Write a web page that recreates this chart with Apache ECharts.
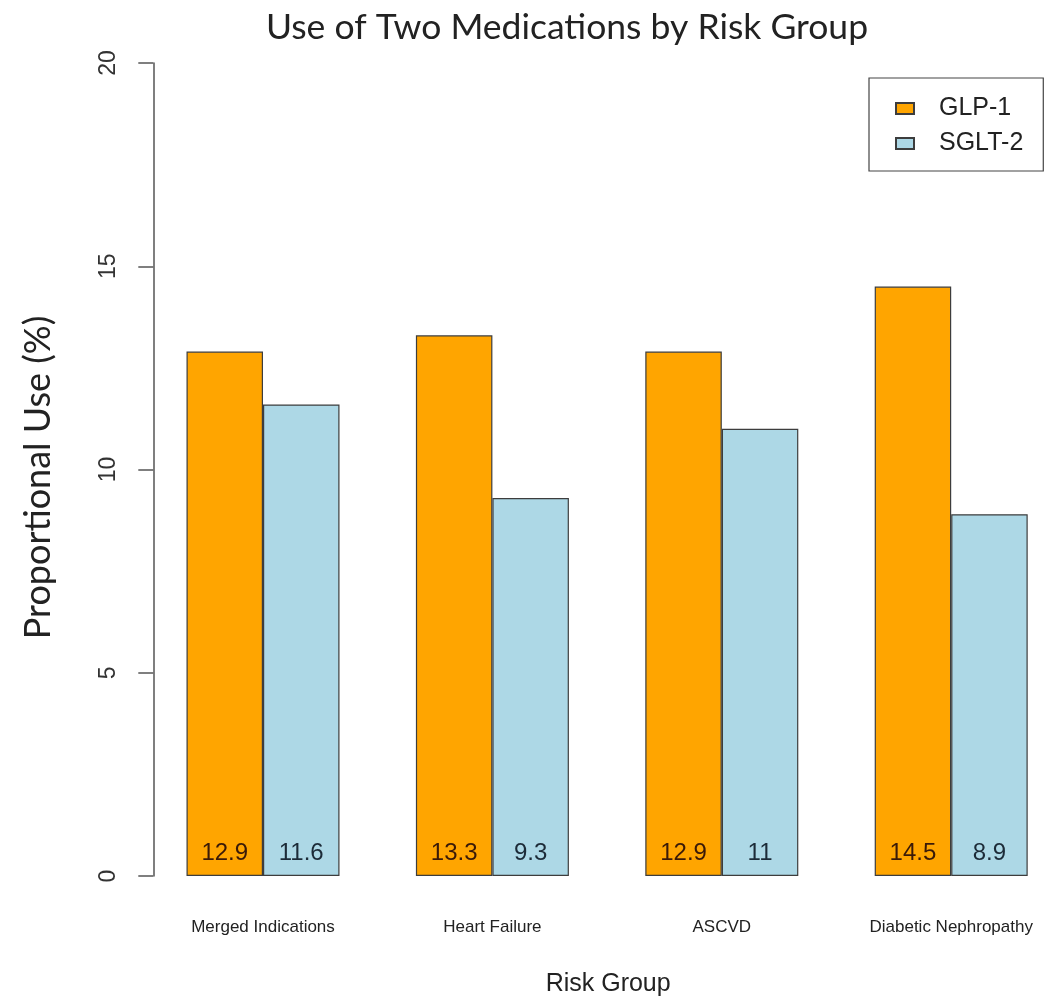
<!DOCTYPE html>
<html>
<head>
<meta charset="utf-8">
<script src="https://cdn.jsdelivr.net/npm/echarts@6/dist/echarts.min.js"></script>
<style>html,body{margin:0;padding:0;background:#fff;}#chart{width:1050px;height:1006px;}</style>
</head>
<body>
<div id="chart"></div>
<script>
const categories = ['Merged Indications', 'Heart Failure', 'ASCVD', 'Diabetic Nephropathy'];
const glp1 = [12.9, 13.3, 12.9, 14.5];
const sglt2 = [11.6, 9.3, 11, 8.9];
const seriesNames = ['GLP-1', 'SGLT-2'];
const yTicks = [0, 5, 10, 15, 20];

const chart = echarts.init(document.getElementById('chart'));
const labelFont = 'Liberation Sans, Arial, Helvetica, sans-serif';
const catPositions = categories.map((c, i) => i);
// grid width 901.7 px; one category band = 229.4 px
const xMin = -0.5;
const xMax = -0.5 + 901.7 / 229.4;
chart.setOption({
  animation: false,
  backgroundColor: '#ffffff',
  title: {
    text: 'Use of Two Medications by Risk Group',
    left: 562, top: 5, textAlign: 'center',
    textStyle: { fontFamily: 'Lato, sans-serif', fontSize: 35.5, fontWeight: 'normal', color: '#222' }
  },
  legend: {
    orient: 'vertical', left: 869, top: 78,
    padding: [18, 20, 15, 26], itemGap: 10,
    itemWidth: 18, itemHeight: 11, icon: 'rect',
    borderColor: '#444', borderWidth: 1.2,
    data: seriesNames,
    textStyle: { fontFamily: labelFont, fontSize: 25, color: '#222', padding: [0, 0, 0, 20] }
  },
  grid: { left: 148.3, top: 63, right: 0, bottom: 130 },
  xAxis: {
    type: 'value', min: xMin, max: xMax,
    axisLine: { show: false }, axisTick: { show: false }, splitLine: { show: false },
    axisLabel: {
      customValues: catPositions,
      formatter: v => categories[Math.round(v)] || '',
      margin: 43, fontFamily: labelFont, fontSize: 17, color: '#222'
    },
    name: 'Risk Group', nameLocation: 'middle', nameGap: 96,
    nameTextStyle: { fontFamily: labelFont, fontSize: 25, color: '#222', padding: [0, 0, 0, 18] }
  },
  yAxis: {
    type: 'value', min: yTicks[0], max: yTicks[yTicks.length - 1], interval: 5,
    offset: -5,
    axisLine: { show: true, onZero: false, lineStyle: { color: '#555', width: 1.5 } },
    axisTick: { show: true, length: 15, lineStyle: { color: '#555', width: 1.5 } },
    splitLine: { show: false },
    axisLabel: { rotate: 90, margin: 33, fontFamily: labelFont, fontSize: 23, color: '#333' },
    name: 'Proportional Use (%)', nameLocation: 'middle', nameRotate: 90, nameGap: 97,
    nameTextStyle: { fontFamily: 'Lato, sans-serif', fontSize: 36, color: '#222', padding: [0, 16, 0, 0] }
  },
  series: [
    {
      name: seriesNames[0], type: 'bar', data: glp1.map((v, i) => [i, v]), barWidth: 76.5, barGap: '0%',
      itemStyle: { color: '#FFA500', borderColor: '#3d3d3d', borderWidth: 1.2 },
      label: { show: true, position: 'insideBottom', distance: 11, fontFamily: labelFont, fontSize: 24, color: '#3a1a08',
               formatter: p => p.value[1] }
    },
    {
      name: seriesNames[1], type: 'bar', data: sglt2.map((v, i) => [i, v]), barWidth: 76.5, barGap: '0%',
      itemStyle: { color: '#ADD8E6', borderColor: '#3d3d3d', borderWidth: 1.2 },
      label: { show: true, position: 'insideBottom', distance: 11, fontFamily: labelFont, fontSize: 24, color: '#1c2b38',
               formatter: p => p.value[1] }
    }
  ]
});
</script>
</body>
</html>
